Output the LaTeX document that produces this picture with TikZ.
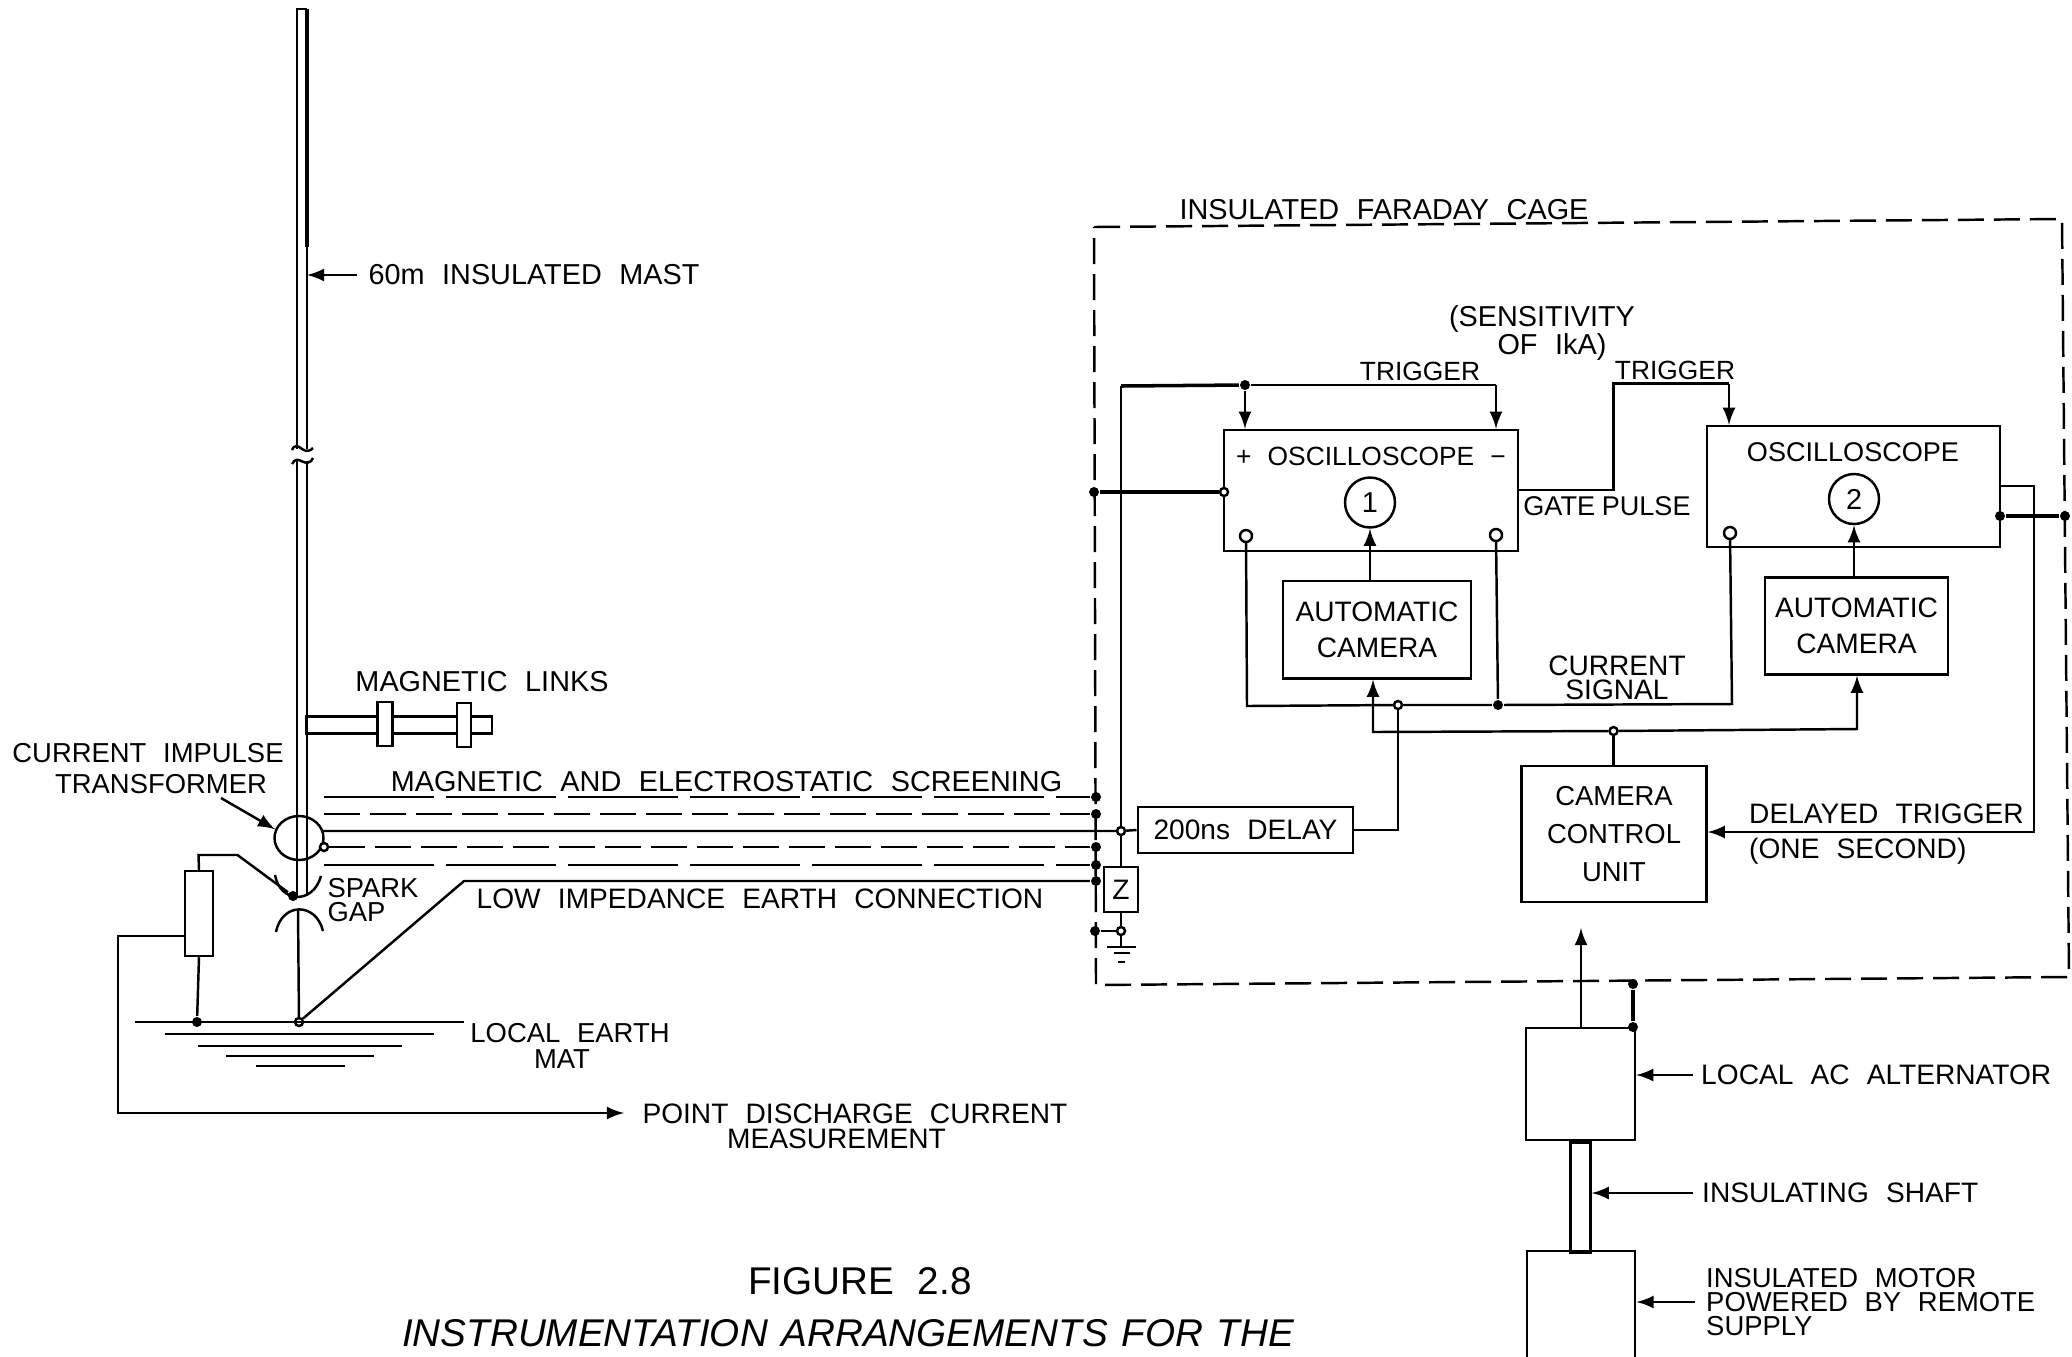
\documentclass[tikz,border=0pt]{standalone}
\usepackage{fontspec}
\setmainfont[WordSpace=2.2]{Liberation Sans}
\usetikzlibrary{shapes,arrows,positioning,calc}

\begin{document}
\begin{tikzpicture}[
    line width=0.7pt,
    lbl/.style={inner sep=0pt, align=center, font=\fontsize{8}{8}\selectfont},
    wide/.style={font=\fontsize{8.2}{8.2}\selectfont},
    slim/.style={font=\fontsize{7.8}{7.8}\selectfont},
    cell/.style={draw, rectangle, inner sep=0pt, align=center, font=\fontsize{8}{8}\selectfont},
    ring/.style={draw, circle, inner sep=0pt, minimum size=0.5cm, font=\fontsize{8.2}{8.2}\selectfont},
    term/.style={draw, circle, inner sep=0pt, minimum size=0.12cm},
    jdot/.style={fill, circle, inner sep=0pt, minimum size=0.1cm},
    odot/.style={draw, fill=white, circle, inner sep=0pt, minimum size=0.08cm},
    arrow/.style={draw, -latex},
    screen/.style={draw, dash pattern=on 0.36cm off 0.1cm},
    longscreen/.style={draw, dash pattern=on 1.1cm off 0.12cm},
    cage/.style={draw, dash pattern=on 0.26cm off 0.1cm}
]
    \useasboundingbox (0,0) rectangle (20.72,-13.56);

    % Mast and spark gap
    \coordinate (mast_ltop) at (2.97,-0.09);
    \coordinate (mast_rtop) at (3.07,-0.09);
    \coordinate (mast_rthk) at (3.07,-2.47);
    \coordinate (mast_lbrk) at (2.97,-4.49);
    \coordinate (mast_rbrk) at (3.07,-4.49);
    \coordinate (mast_lcnt) at (2.97,-4.61);
    \coordinate (mast_rcnt) at (3.07,-4.61);
    \coordinate (mast_rend) at (3.07,-8.96);
    \node[jdot] (gap_top) at (2.93,-8.96) {};
    \draw (mast_lbrk) -- (mast_ltop) -- (mast_rtop);
    \draw[line width=1.2pt] (mast_rtop) -- (mast_rthk);
    \draw (mast_rthk) -- (mast_rbrk);
    \draw (mast_lcnt) -- (2.97,-8.96);
    \draw (mast_rcnt) -- (mast_rend);
    \draw (2.92,-4.50) .. controls (2.98,-4.38) and (3.03,-4.58) .. (3.13,-4.48);
    \draw (2.92,-4.64) .. controls (2.98,-4.52) and (3.06,-4.71) .. (3.13,-4.58);
    \draw (2.75,-8.75) .. controls (2.80,-9.03) and (3.13,-9.05) .. (3.21,-8.76);
    \draw (2.76,-9.32) .. controls (2.82,-9.02) and (3.16,-9.02) .. (3.23,-9.31);
    \node[odot] (earth_pt) at (2.99,-10.22) {};
    \coordinate (gap_low) at (2.98,-9.09);
    \draw (gap_low) -- (earth_pt);

    % Local earth mat
    \coordinate (mat_a) at (1.35,-10.22);
    \coordinate (mat_b) at (4.64,-10.22);
    \draw (mat_a) -- (mat_b);
    \draw (1.65,-10.34) -- (4.34,-10.34);
    \draw (1.98,-10.46) -- (4.02,-10.46);
    \draw (2.26,-10.56) -- (3.74,-10.56);
    \draw (2.56,-10.66) -- (3.45,-10.66);
    \node[jdot] (res_earth) at (1.97,-10.22) {};

    % Transformer
    \node[draw, ellipse, inner sep=0pt, minimum width=0.49cm, minimum height=0.44cm] (xfmr) at (2.99,-8.38) {};
    \node[odot] (tr_term) at (3.24,-8.47) {};

    % Magnetic links
    \node[cell, minimum width=1.86cm, minimum height=0.17cm, anchor=west] (link_bar) at (3.05,-7.25) {};
    \node[cell, fill=white, minimum width=0.15cm, minimum height=0.44cm] (link_a) at (3.85,-7.24) {};
    \node[cell, fill=white, minimum width=0.14cm, minimum height=0.44cm] (link_b) at (4.64,-7.25) {};
    \node[lbl, wide] (link_lab) at (4.82,-6.82) {MAGNETIC LINKS};

    % Screening and earth lines
    \node[jdot] (s1) at (10.96,-7.97) {};
    \node[jdot] (s2) at (10.96,-8.14) {};
    \node[jdot] (s4) at (10.96,-8.47) {};
    \node[jdot] (s5) at (10.96,-8.65) {};
    \node[jdot] (s6) at (10.96,-8.81) {};
    \coordinate (s1_start) at (3.24,-7.97);
    \coordinate (s2_start) at (3.24,-8.14);
    \coordinate (s3_start) at (3.23,-8.31);
    \coordinate (s5_start) at (3.24,-8.65);
    \coordinate (s6_start) at (4.64,-8.81);
    \path[longscreen] (s1_start) -- (s1);
    \path[screen] (s2_start) -- (s2);
    \path[screen] (tr_term) -- (s4);
    \path[longscreen] (s5_start) -- (s5);
    \draw (earth_pt) -- (s6_start) -- (s6);
    \node[lbl, wide] (screen_lab) at (7.265,-7.82) {MAGNETIC AND ELECTROSTATIC SCREENING};
    \node[lbl] (earth_lab) at (7.6,-8.99) {LOW IMPEDANCE EARTH CONNECTION};

    % Left labels
    \node[lbl, wide] (mast_lab) at (5.34,-2.75) {60m INSULATED MAST};
    \path[arrow] (mast_lab.west) ++(-0.1,0) -- (mast_rtop |- mast_lab.west);
    \node[lbl, slim] (tr_lab) at (1.48,-7.69) {CURRENT IMPULSE\\[1pt]\hspace*{0.26cm}TRANSFORMER};
    \coordinate (tr_tail) at (2.21,-7.98);
    \path[arrow] (tr_tail) -- (xfmr.160);
    \node[lbl, align=left, font=\fontsize{7.8}{7}\selectfont] (gap_lab) at (3.73,-9.0) {SPARK\\GAP};
    \node[lbl, slim] (mat_lab) at (5.7,-10.46) {LOCAL EARTH\\[-0.2pt]MAT\hspace*{0.16cm}};
    \node[lbl] (meas_lab) at (8.55,-11.26) {POINT DISCHARGE CURRENT\\[-0.8pt]MEASUREMENT\hspace*{0.37cm}};

    % Measuring resistor
    \node[cell, minimum width=0.28cm, minimum height=0.85cm] (res) at (1.99,-9.135) {};
    \coordinate (lead_a) at (1.985,-8.55);
    \coordinate (lead_b) at (2.375,-8.55);
    \coordinate (meas_a) at (1.18,-9.36);
    \coordinate (meas_b) at (1.18,-11.13);
    \coordinate (meas_tip) at (6.24,-11.13);
    \draw (res.north) -- (lead_a) -- (lead_b) -- (gap_top);
    \draw (res.south) -- (res_earth);
    \path[arrow] (res.west |- meas_a) -- (meas_a) -- (meas_b) -- (meas_tip);

    % Faraday cage
    \coordinate (cage_nw) at (10.94,-2.27);
    \coordinate (cage_ne) at (20.62,-2.19);
    \coordinate (cage_se) at (20.69,-9.77);
    \coordinate (cage_sw) at (10.96,-9.85);
    \path[cage] (cage_nw) -- (cage_ne) -- (cage_se) -- (cage_sw) -- cycle;
    \node[lbl, wide] (cage_lab) at (13.84,-2.10) {INSULATED FARADAY CAGE};

    % Oscilloscopes
    \node[cell, minimum width=2.94cm, minimum height=1.21cm] (osc_one) at (13.71,-4.905) {};
    \node[cell, minimum width=2.93cm, minimum height=1.21cm] (osc_two) at (18.535,-4.865) {};
    \node[lbl, font=\fontsize{7.5}{7.5}\selectfont] (osc_one_lab) at (13.71,-4.56) {+ OSCILLOSCOPE −};
    \node[lbl, font=\fontsize{7.7}{7.7}\selectfont] (osc_two_lab) at (18.53,-4.525) {OSCILLOSCOPE};
    \node[ring] (scr_one) at (13.70,-5.025) {1};
    \node[ring] (scr_two) at (18.54,-4.99) {2};
    \node[term] (in_plus) at (12.46,-5.36) {};
    \node[term] (in_minus) at (14.96,-5.35) {};
    \node[term] (in_two) at (17.30,-5.33) {};

    % Cameras
    \node[cell, minimum width=1.885cm, minimum height=0.975cm, below=0.275cm of osc_one.south, xshift=0.06cm] (cam_one) {AUTOMATIC\\[2.1pt]CAMERA};
    \node[cell, minimum width=1.825cm, minimum height=0.97cm, below=0.28cm of osc_two.south, xshift=0.03cm] (cam_two) {AUTOMATIC\\[2.1pt]CAMERA};
    \node[cell, font=\fontsize{7.8}{7.8}\selectfont, minimum width=1.85cm, minimum height=1.36cm] (ctl) at (16.14,-8.34) {CAMERA\\[3pt]CONTROL\\[3pt]UNIT};

    % Delay and Z
    \node[cell, minimum width=2.155cm, minimum height=0.46cm] (delay) at (12.455,-8.30) {200ns DELAY};
    \node[cell, minimum width=0.335cm, minimum height=0.45cm] (zbox) at (11.21,-8.895) {Z};
    \node[odot] (trg_junc) at (11.21,-8.31) {};
    \node[odot] (z_junc) at (11.21,-9.31) {};
    \node[jdot] (cage_earth) at (10.95,-9.31) {};
    \coordinate (gnd) at (11.21,-9.47);
    \coordinate (trg_corner) at (11.21,-3.86);
    \draw (s3_start) -- (trg_junc) -- (delay.west);
    \draw (trg_corner) -- (trg_junc) -- (zbox.north);
    \draw (zbox.south) -- (z_junc) -- (gnd);
    \draw (cage_earth) -- (z_junc);
    \draw (11.07,-9.47) -- (11.36,-9.47);
    \draw (11.135,-9.53) -- (11.30,-9.53);
    \draw (11.18,-9.62) -- (11.25,-9.62);

    % Trigger wiring
    \node[jdot] (plus_junc) at (12.45,-3.85) {};
    \coordinate (minus_corner) at (14.96,-3.85);
    \draw[line width=1pt] (trg_corner) -- (plus_junc);
    \draw (plus_junc) -- (minus_corner);
    \path[arrow] (plus_junc) -- (plus_junc |- osc_one.north);
    \path[arrow] (minus_corner) -- (minus_corner |- osc_one.north);
    \node[lbl, font=\fontsize{7.5}{7.5}\selectfont] (trg_one_lab) at (14.2,-3.71) {TRIGGER};
    \coordinate (gate_a) at (16.135,-4.90);
    \coordinate (gate_b) at (16.135,-3.835);
    \coordinate (gate_c) at (17.29,-3.835);
    \draw (osc_one.east |- gate_a) -- (gate_a) -- (gate_b) -- (gate_c);
    \path[arrow] (gate_c) -- (gate_c |- osc_two.north);
    \node[lbl, font=\fontsize{7.5}{7.5}\selectfont] (trg_two_lab) at (16.75,-3.70) {TRIGGER};
    \node[lbl, font=\fontsize{7.7}{7.7}\selectfont] (gate_lab) at (16.07,-5.06) {\spaceskip=0.25em GATE PULSE};
    \node[lbl, wide] (sens_lab) at (15.42,-3.33) {(SENSITIVITY\\[-0.4pt]\hspace*{0.2cm}OF IkA)};

    % Cage to oscilloscope one
    \node[jdot] (osc_cage) at (10.94,-4.92) {};
    \node[odot] (osc_left) at (12.24,-4.92) {};
    \draw[line width=1.1pt] (osc_cage) -- (osc_left);

    % Oscilloscope two output
    \coordinate (out_a) at (20.34,-4.86);
    \coordinate (out_b) at (20.34,-8.32);
    \path[arrow] (osc_two.east |- out_a) -- (out_a) -- (out_b) -- (ctl.east |- out_b);
    \node[jdot] (osc_two_out) at (20.0,-5.16) {};
    \node[jdot] (osc_two_cage) at (20.65,-5.16) {};
    \draw[line width=1pt] (osc_two_out) -- (osc_two_cage);
    \node[lbl, anchor=west, align=left] (trg_del_lab) at (17.48,-8.34) {DELAYED TRIGGER\\[2pt](ONE SECOND)};

    % Current signal
    \node[odot] (sig_junc) at (13.98,-7.05) {};
    \node[jdot] (sig_minus) at (14.98,-7.05) {};
    \coordinate (sig_a) at (12.47,-7.06);
    \coordinate (sig_b) at (17.32,-7.04);
    \draw (in_plus) -- (sig_a) -- (sig_junc) -- (sig_minus) -- (sig_b) -- (in_two);
    \draw (in_minus) -- (sig_minus);
    \draw (delay.east) -| (sig_junc);
    \node[lbl] (sig_lab) at (16.17,-6.78) {CURRENT\\[-1.2pt]SIGNAL};

    % Camera control wiring
    \node[odot] (bus_junc) at (16.135,-7.31) {};
    \coordinate (bus_a) at (13.73,-7.32);
    \coordinate (bus_b) at (18.57,-7.29);
    \draw (ctl.north -| bus_junc) -- (bus_junc);
    \path[arrow] (bus_junc) -- (bus_a) -- (bus_a |- cam_one.south);
    \path[arrow] (bus_junc) -- (bus_b) -- (bus_b |- cam_two.south);
    \path[arrow] (cam_one.north -| scr_one) -- (scr_one.south);
    \path[arrow] (cam_two.north -| scr_two) -- (scr_two.south);

    % Alternator, shaft and motor
    \node[cell, minimum width=1.09cm, minimum height=1.12cm] (alt) at (15.805,-10.84) {};
    \node[cell, minimum width=0.20cm, minimum height=1.10cm, below=0cm of alt.south] (shaft) {};
    \node[cell, minimum width=1.085cm, minimum height=1.20cm, anchor=north] (motor) at (15.81,-12.50) {};
    \node[jdot] (alt_top) at (16.33,-10.27) {};
    \node[jdot] (cage_alt) at (16.33,-9.84) {};
    \coordinate (ac_tip) at (15.81,-9.28);
    \draw[line width=1pt] (cage_alt) -- (alt_top);
    \path[arrow] (alt.north -| ac_tip) -- (ac_tip);
    \node[lbl, anchor=west] (alt_lab) at (17.0,-10.75) {LOCAL AC ALTERNATOR};
    \node[lbl, anchor=west] (shaft_lab) at (17.01,-11.93) {INSULATING SHAFT};
    \node[lbl, slim, anchor=west, align=left] (motor_lab) at (17.05,-13.02) {INSULATED MOTOR\\[-1pt]POWERED BY REMOTE\\[-1pt]SUPPLY};
    \path[arrow] (alt_lab.west) ++(-0.07,0) -- (alt.east |- alt_lab.west);
    \path[arrow] (shaft_lab.west) ++(-0.08,0) -- (shaft.east |- shaft_lab.west);
    \path[arrow] (motor_lab.west) ++(-0.1,0) -- (motor.east |- motor_lab.west);

    % Caption
    \node[lbl, font=\fontsize{11}{11}\selectfont] (fig_lab) at (8.6,-12.81) {FIGURE 2.8};
    \node[lbl, font=\fontsize{11}{11}\selectfont\itshape] (title_lab) at (8.48,-13.335) {\spaceskip=0.35em INSTRUMENTATION ARRANGEMENTS FOR THE};

\end{tikzpicture}
\end{document}
